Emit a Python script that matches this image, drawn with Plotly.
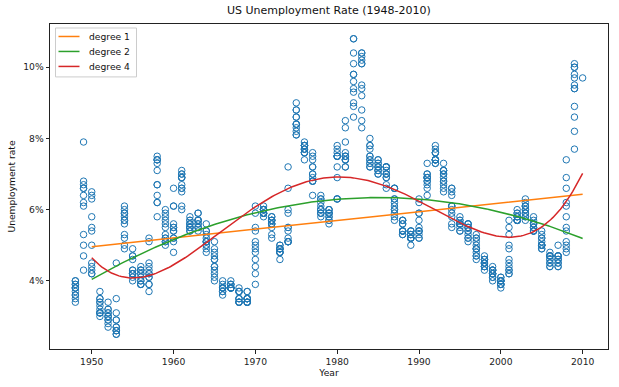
import numpy as np
import plotly.graph_objects as go

years = list(range(1948, 2011))

monthly_rates = [
    [3.4, 3.8, 4.0, 3.9, 3.5, 3.6, 3.6, 3.9, 3.8, 3.7, 3.8, 4.0],  # 1948
    [4.3, 4.7, 5.0, 5.3, 6.1, 6.2, 6.7, 6.8, 6.6, 7.9, 6.4, 6.6],  # 1949
    [6.5, 6.4, 6.3, 5.8, 5.5, 5.4, 5.0, 4.5, 4.4, 4.2, 4.2, 4.3],  # 1950
    [3.7, 3.4, 3.4, 3.1, 3.0, 3.2, 3.1, 3.1, 3.3, 3.5, 3.5, 3.1],  # 1951
    [3.2, 3.1, 2.9, 2.9, 3.0, 3.0, 3.2, 3.4, 3.1, 3.0, 2.8, 2.7],  # 1952
    [2.9, 2.6, 2.6, 2.7, 2.5, 2.5, 2.6, 2.7, 2.9, 3.1, 3.5, 4.5],  # 1953
    [4.9, 5.2, 5.7, 5.9, 5.9, 5.6, 5.8, 6.0, 6.1, 5.7, 5.3, 5.0],  # 1954
    [4.9, 4.7, 4.6, 4.7, 4.3, 4.2, 4.0, 4.2, 4.1, 4.3, 4.2, 4.2],  # 1955
    [4.0, 3.9, 4.2, 4.0, 4.3, 4.3, 4.4, 4.1, 3.9, 3.9, 4.3, 4.2],  # 1956
    [4.2, 3.9, 3.7, 3.9, 4.1, 4.3, 4.2, 4.1, 4.4, 4.5, 5.1, 5.2],  # 1957
    [5.8, 6.4, 6.7, 7.4, 7.4, 7.3, 7.5, 7.4, 7.1, 6.7, 6.2, 6.2],  # 1958
    [6.0, 5.9, 5.6, 5.2, 5.1, 5.0, 5.1, 5.2, 5.5, 5.7, 5.8, 5.3],  # 1959
    [5.2, 4.8, 5.4, 5.2, 5.1, 5.4, 5.5, 5.6, 5.5, 6.1, 6.1, 6.6],  # 1960
    [6.6, 6.9, 6.9, 7.0, 7.1, 6.9, 7.0, 6.6, 6.7, 6.5, 6.1, 6.0],  # 1961
    [5.8, 5.5, 5.6, 5.6, 5.5, 5.5, 5.4, 5.7, 5.6, 5.4, 5.7, 5.5],  # 1962
    [5.7, 5.9, 5.7, 5.7, 5.9, 5.6, 5.6, 5.4, 5.5, 5.5, 5.7, 5.5],  # 1963
    [5.6, 5.4, 5.4, 5.3, 5.1, 5.2, 4.9, 5.0, 5.1, 5.1, 4.8, 5.0],  # 1964
    [4.9, 5.1, 4.7, 4.8, 4.6, 4.6, 4.4, 4.4, 4.3, 4.2, 4.1, 4.0],  # 1965
    [4.0, 3.8, 3.8, 3.8, 3.9, 3.8, 3.8, 3.8, 3.7, 3.7, 3.6, 3.8],  # 1966
    [3.9, 3.8, 3.8, 3.8, 3.8, 3.9, 3.8, 3.8, 3.8, 4.0, 3.9, 3.8],  # 1967
    [3.7, 3.8, 3.7, 3.5, 3.5, 3.7, 3.7, 3.5, 3.4, 3.4, 3.4, 3.4],  # 1968
    [3.4, 3.4, 3.4, 3.4, 3.4, 3.5, 3.5, 3.5, 3.7, 3.7, 3.5, 3.5],  # 1969
    [3.9, 4.2, 4.4, 4.6, 4.8, 4.9, 5.0, 5.1, 5.4, 5.5, 5.9, 6.1],  # 1970
    [5.9, 5.9, 6.0, 5.9, 5.9, 5.9, 6.0, 6.1, 6.0, 5.8, 6.0, 6.0],  # 1971
    [5.8, 5.7, 5.8, 5.7, 5.7, 5.7, 5.6, 5.6, 5.5, 5.6, 5.3, 5.2],  # 1972
    [4.9, 5.0, 4.9, 5.0, 4.9, 4.9, 4.8, 4.8, 4.8, 4.6, 4.8, 4.9],  # 1973
    [5.1, 5.2, 5.1, 5.1, 5.1, 5.4, 5.5, 5.5, 5.9, 6.0, 6.6, 7.2],  # 1974
    [8.1, 8.1, 8.6, 8.8, 9.0, 8.8, 8.6, 8.4, 8.4, 8.4, 8.3, 8.2],  # 1975
    [7.9, 7.7, 7.6, 7.7, 7.4, 7.6, 7.8, 7.8, 7.6, 7.7, 7.8, 7.8],  # 1976
    [7.5, 7.6, 7.4, 7.2, 7.0, 7.2, 6.9, 7.0, 6.8, 6.8, 6.8, 6.4],  # 1977
    [6.4, 6.3, 6.3, 6.1, 6.0, 5.9, 6.2, 5.9, 6.0, 5.8, 5.9, 6.0],  # 1978
    [5.9, 5.9, 5.8, 5.8, 5.6, 5.7, 5.7, 6.0, 5.9, 6.0, 5.9, 6.0],  # 1979
    [6.3, 6.3, 6.3, 6.9, 7.5, 7.6, 7.8, 7.7, 7.5, 7.5, 7.5, 7.2],  # 1980
    [7.5, 7.4, 7.4, 7.2, 7.5, 7.5, 7.2, 7.4, 7.6, 7.9, 8.3, 8.5],  # 1981
    [8.6, 8.9, 9.0, 9.3, 9.4, 9.6, 9.8, 9.8, 10.1, 10.4, 10.8, 10.8],  # 1982
    [10.4, 10.4, 10.3, 10.2, 10.1, 10.1, 9.4, 9.5, 9.2, 8.8, 8.5, 8.3],  # 1983
    [8.0, 7.8, 7.8, 7.7, 7.4, 7.2, 7.5, 7.5, 7.3, 7.4, 7.2, 7.3],  # 1984
    [7.3, 7.2, 7.2, 7.3, 7.2, 7.4, 7.4, 7.1, 7.1, 7.1, 7.0, 7.0],  # 1985
    [6.7, 7.2, 7.2, 7.1, 7.2, 7.2, 7.0, 6.9, 7.0, 7.0, 6.9, 6.6],  # 1986
    [6.6, 6.6, 6.6, 6.3, 6.3, 6.2, 6.1, 6.0, 5.9, 6.0, 5.8, 5.7],  # 1987
    [5.7, 5.7, 5.7, 5.4, 5.6, 5.4, 5.4, 5.6, 5.4, 5.4, 5.3, 5.3],  # 1988
    [5.4, 5.2, 5.0, 5.2, 5.2, 5.3, 5.2, 5.2, 5.3, 5.3, 5.4, 5.4],  # 1989
    [5.4, 5.3, 5.2, 5.4, 5.4, 5.2, 5.5, 5.7, 5.9, 5.9, 6.2, 6.3],  # 1990
    [6.4, 6.6, 6.8, 6.7, 6.9, 6.9, 6.8, 6.9, 6.9, 7.0, 7.0, 7.3],  # 1991
    [7.3, 7.4, 7.4, 7.4, 7.6, 7.8, 7.7, 7.6, 7.6, 7.3, 7.4, 7.4],  # 1992
    [7.3, 7.1, 7.0, 7.1, 7.1, 7.0, 6.9, 6.8, 6.7, 6.8, 6.6, 6.5],  # 1993
    [6.6, 6.6, 6.5, 6.4, 6.1, 6.1, 6.1, 6.0, 5.9, 5.8, 5.6, 5.5],  # 1994
    [5.6, 5.4, 5.4, 5.8, 5.6, 5.6, 5.7, 5.7, 5.6, 5.5, 5.6, 5.6],  # 1995
    [5.6, 5.5, 5.5, 5.6, 5.6, 5.3, 5.5, 5.1, 5.2, 5.2, 5.4, 5.4],  # 1996
    [5.3, 5.2, 5.2, 5.1, 4.9, 5.0, 4.9, 4.8, 4.9, 4.7, 4.6, 4.7],  # 1997
    [4.6, 4.6, 4.7, 4.3, 4.4, 4.5, 4.5, 4.5, 4.6, 4.5, 4.4, 4.4],  # 1998
    [4.3, 4.4, 4.2, 4.3, 4.2, 4.3, 4.3, 4.2, 4.2, 4.1, 4.1, 4.0],  # 1999
    [4.0, 4.1, 4.0, 3.8, 4.0, 4.0, 4.0, 4.1, 3.9, 3.9, 3.9, 3.9],  # 2000
    [4.2, 4.2, 4.3, 4.4, 4.3, 4.5, 4.6, 4.9, 5.0, 5.3, 5.5, 5.7],  # 2001
    [5.7, 5.7, 5.7, 5.9, 5.8, 5.8, 5.8, 5.7, 5.7, 5.7, 5.9, 6.0],  # 2002
    [5.8, 5.9, 5.9, 6.0, 6.1, 6.3, 6.2, 6.1, 6.1, 6.0, 5.8, 5.7],  # 2003
    [5.7, 5.6, 5.8, 5.6, 5.6, 5.6, 5.5, 5.4, 5.4, 5.5, 5.4, 5.4],  # 2004
    [5.3, 5.4, 5.2, 5.2, 5.1, 5.0, 5.0, 4.9, 5.0, 5.0, 5.0, 4.9],  # 2005
    [4.7, 4.8, 4.7, 4.7, 4.6, 4.6, 4.7, 4.7, 4.5, 4.4, 4.5, 4.4],  # 2006
    [4.6, 4.5, 4.4, 4.5, 4.4, 4.6, 4.7, 4.6, 4.7, 4.7, 4.7, 5.0],  # 2007
    [4.9, 4.8, 5.1, 5.0, 5.4, 5.5, 5.8, 6.1, 6.2, 6.6, 6.9, 7.4],  # 2008
    [7.7, 8.2, 8.6, 8.9, 9.4, 9.5, 9.4, 9.7, 9.8, 10.1, 10.0, 10.0],  # 2009
    [9.7],  # 2010
]

x_ticks = [1950, 1960, 1970, 1980, 1990, 2000, 2010]
y_ticks = [4, 6, 8, 10]
y_tick_labels = [f"{v}%" for v in y_ticks]

fit_degrees = [1, 2, 4]
fit_names = [f"degree {d}" for d in fit_degrees]
fit_colors = ["#ff7f0e", "#2ca02c", "#d62728"]
fit_start, fit_end = 1950, 2010

x_pts = np.array([yr for yr, vals in zip(years, monthly_rates) for _ in vals], dtype=float)
y_pts = np.array([v for vals in monthly_rates for v in vals], dtype=float)

W, H = 619, 387
ML, MR, MT, MB = 50, 11, 23.5, 38
PW, PH = W - ML - MR, H - MT - MB

fig = go.Figure()
fig.add_trace(go.Scatter(
    x=x_pts, y=y_pts, mode="markers", showlegend=False,
    marker=dict(symbol="circle-open", size=6.5, color="#1f77b4", line=dict(width=1)),
    hoverinfo="x+y",
))

x0 = x_pts.mean()
xs = np.linspace(fit_start, fit_end, 200)
for name, deg, col in zip(fit_names, fit_degrees, fit_colors):
    coef = np.polyfit(x_pts - x0, y_pts, deg)
    fig.add_trace(go.Scatter(
        x=xs, y=np.polyval(coef, xs - x0), mode="lines", showlegend=False,
        name=name, line=dict(color=col, width=1.5),
    ))

# custom legend (matplotlib-like compact box), placed in paper coords
def px(xp):
    return (xp - ML) / PW

def py(yp):
    return 1 - (yp - MT) / PH

fig.add_shape(type="rect", xref="paper", yref="paper",
              x0=px(55.5), x1=px(136.5), y0=py(76.5), y1=py(27.5),
              line=dict(color="#cccccc", width=1), fillcolor="rgba(255,255,255,0.8)",
              layer="above")
for i, (name, col) in enumerate(zip(fit_names, fit_colors)):
    yrow = 36 + 15 * i
    fig.add_shape(type="line", xref="paper", yref="paper",
                  x0=px(58.5), x1=px(79.5), y0=py(yrow), y1=py(yrow),
                  line=dict(color=col, width=1.5), layer="above")
    fig.add_annotation(xref="paper", yref="paper", x=px(86.5), y=py(yrow),
                       xanchor="left", yanchor="middle", showarrow=False,
                       text=name, font=dict(family="DejaVu Sans", size=9.2, color="#111"))

axis_common = dict(
    showline=True, linecolor="#222", linewidth=1, mirror=True,
    ticks="outside", ticklen=3.5, tickwidth=1, tickcolor="#222",
    showgrid=False, zeroline=False,
    tickfont=dict(family="DejaVu Sans", size=9.2, color="#222"),
)

fig.add_annotation(xref="paper", yref="paper", x=0.5, y=1, yshift=5,
                   xanchor="center", yanchor="bottom", showarrow=False,
                   text="US Unemployment Rate (1948-2010)",
                   font=dict(family="DejaVu Sans", size=11, color="#111"))

fig.update_layout(
    width=W, height=H,
    margin=dict(l=ML, r=MR, t=MT, b=MB),
    paper_bgcolor="white", plot_bgcolor="white",
    xaxis=dict(range=[1944.9, 2013.1], tickmode="array", tickvals=x_ticks,
               title=dict(text="Year", standoff=1,
                          font=dict(family="DejaVu Sans", size=9.2, color="#111")),
               **axis_common),
    yaxis=dict(range=[2.085, 11.215], tickmode="array", tickvals=y_ticks, ticktext=y_tick_labels,
               title=dict(text="Unemployment rate", standoff=6,
                          font=dict(family="DejaVu Sans", size=9.2, color="#111")),
               **axis_common),
    showlegend=False,
)

fig.write_html(
    "out.html",
    config={"displayModeBar": False},
    post_script="document.body.style.margin='0';document.body.style.overflow='hidden';",
)
